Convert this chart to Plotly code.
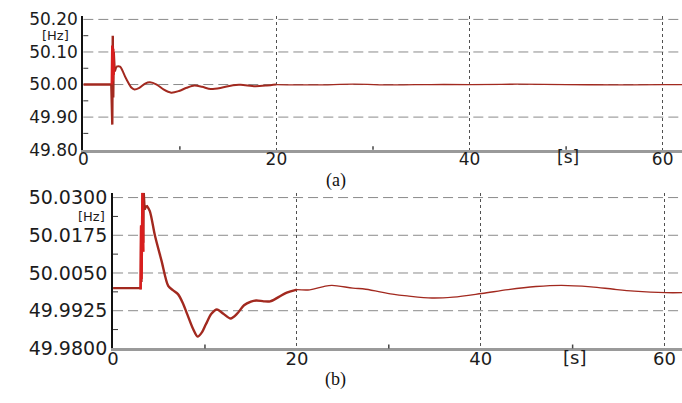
import plotly.graph_objects as go

W, H = 682, 403

# ---------------- data: panel (a) ----------------
ta_spike = [0, 2.9, 3.0, 3.05, 3.1, 3.15, 3.25, 3.4]
va_spike = [50.00, 50.00, 49.877, 50.15, 49.96, 50.10, 50.04, 50.055]
ta_red = [2.95, 3.0, 3.05, 3.1, 3.15]
va_red = [50.00, 50.12, 50.01, 50.11, 50.03]
ta_main = [3.4, 3.8, 4.4, 5.0, 5.3, 5.8, 6.4, 6.9, 7.6, 8.3, 9.1, 9.9, 10.7, 11.5,
           12.3, 13.2, 14.3, 15.5, 16.3, 17.8, 19.0, 20.0]
va_main = [50.055, 50.055, 50.02, 49.99, 49.985, 49.99, 50.003, 50.007, 50.00, 49.985,
           49.975, 49.98, 49.99, 49.997, 49.993, 49.986, 49.99, 49.998, 49.999, 49.995,
           49.997, 50.00]
ta_tail = [20, 24, 28, 32, 36, 40, 45, 50, 55, 60, 62]
va_tail = [50.00, 49.999, 50.001, 49.999, 50.000, 50.000, 50.001, 50.000, 49.999, 50.000, 50.000]

# ---------------- data: panel (b) ----------------
tb_spike = [0, 3.0, 3.05, 3.1, 3.2, 3.3, 3.35, 3.45, 3.65]
vb_spike = [50.000, 50.000, 50.0207, 50.002, 50.0316, 50.015, 50.0316, 50.026, 50.0274]
tb_red = [3.0, 3.05, 3.1, 3.2, 3.3]
vb_red = [49.9995, 50.0207, 50.003, 50.0316, 50.012]
tb_main = [3.65, 4.0, 4.55, 5.27, 6.0, 6.5, 7.06, 7.6, 8.1, 8.7, 9.2, 9.7, 10.1, 10.7,
           11.3, 12.0, 12.8, 13.5, 14.25, 15.0, 15.6, 16.4, 17.1, 18.0, 18.9, 20.0]
vb_main = [50.0274, 50.0255, 50.0175, 50.0091, 50.0007, 49.9993, 49.998, 49.995, 49.9911,
           49.9865, 49.9839, 49.9855, 49.988, 49.9915, 49.9929, 49.9915, 49.9899, 49.9915,
           49.9943, 49.9955, 49.9959, 49.9956, 49.9956, 49.997, 49.9985, 49.9995]
tb_tail = [20.0, 21.4, 22.9, 23.8, 26.1, 27.5, 30.4, 32.0, 34.7, 37.0, 40.1, 43.0, 46.0,
           48.8, 52.0, 54.5, 56.7, 60.1, 61.9]
vb_tail = [49.9995, 49.9994, 50.0005, 50.0009, 50.0000, 49.9996, 49.998, 49.9974, 49.9967,
           49.997, 49.9982, 49.9995, 50.0005, 50.0009, 50.0004, 49.9996, 49.999, 49.9985,
           49.9985]

# tick labels / values
x_ticks = [0, 20, 40, 60]
x_minor = [10, 30, 50]
ya_ticks = [49.80, 49.90, 50.00, 50.10, 50.20]
ya_minor = [49.85, 49.95, 50.05, 50.15]
yb_ticks = [49.9800, 49.9925, 50.0050, 50.0175, 50.0300]
yb_minor = [49.98625, 49.99875, 50.01125, 50.02375]

DARK = "#a2291f"
RED = "#d81e1e"
GRID = "#8a8a8a"
VGRID = "#505050"

fig = go.Figure()
# panel (a)
fig.add_trace(go.Scatter(x=ta_spike, y=va_spike, mode="lines", line=dict(color=DARK, width=2.4),
                         xaxis="x", yaxis="y", showlegend=False))
fig.add_trace(go.Scatter(x=ta_red, y=va_red, mode="lines", line=dict(color=RED, width=2.5),
                         xaxis="x", yaxis="y", showlegend=False))
fig.add_trace(go.Scatter(x=ta_main, y=va_main, mode="lines", line=dict(color=DARK, width=2.0, shape="spline", smoothing=0.8),
                         xaxis="x", yaxis="y", showlegend=False))
fig.add_trace(go.Scatter(x=ta_tail, y=va_tail, mode="lines", line=dict(color=DARK, width=1.3, shape="spline"),
                         xaxis="x", yaxis="y", showlegend=False))
# panel (b)
fig.add_trace(go.Scatter(x=tb_spike, y=vb_spike, mode="lines", line=dict(color=DARK, width=2.2),
                         xaxis="x2", yaxis="y2", showlegend=False))
fig.add_trace(go.Scatter(x=tb_red, y=vb_red, mode="lines", line=dict(color=RED, width=2.5),
                         xaxis="x2", yaxis="y2", showlegend=False))
fig.add_trace(go.Scatter(x=tb_main, y=vb_main, mode="lines", line=dict(color=DARK, width=2.4, shape="spline", smoothing=0.8),
                         xaxis="x2", yaxis="y2", showlegend=False))
fig.add_trace(go.Scatter(x=tb_tail, y=vb_tail, mode="lines", line=dict(color=DARK, width=1.4, shape="spline"),
                         xaxis="x2", yaxis="y2", showlegend=False))


def px_x(p):
    return p / W


def px_y(p):
    return 1 - p / H


FONT = "DejaVu Sans"
TXT = "#1c1c1c"

xcommon = dict(
    showline=True, linecolor="#9a9a9a", linewidth=2.5, layer="below traces",
    showgrid=True, gridcolor=VGRID, griddash="dot", gridwidth=1,
    zeroline=False, tickmode="array", tickvals=x_ticks, ticks="",
    ticklabelstandoff=-8,
)
ycommon = dict(
    showline=True, linecolor="#111111", linewidth=2,
    showgrid=False,
    zeroline=False, tickmode="array", ticks="",
)

# panel (a) geometry: y 49.80 at px 150, 50.20 at px 14; top extends to px 10
a_left, a_bot, a_top_tick, a_top = 78, 150, 14, 10
ya_per_px = (ya_ticks[-1] - ya_ticks[0]) / (a_bot - a_top_tick)
ya_range = [ya_ticks[0], ya_ticks[-1] + (a_top_tick - a_top) * ya_per_px]

b_left, b_bot, b_top_tick, b_top = 108, 357.5, 200, 195
yb_per_px = (yb_ticks[-1] - yb_ticks[0]) / (b_bot - b_top_tick)
yb_range = [yb_ticks[0], yb_ticks[-1] + (b_top_tick - b_top) * yb_per_px]

shapes = []
# horizontal dashed grid lines at the y ticks
for xr, yr, ticks in (("x domain", "y", ya_ticks), ("x2 domain", "y2", yb_ticks)):
    for v in ticks[1:]:
        shapes.append(dict(type="line", xref=xr, yref=yr, x0=0, x1=1, y0=v, y1=v,
                           line=dict(color=GRID, width=1, dash="10px,5px"), layer="below"))
# minor inside ticks on y axes
for xr, yr, ticks, left in (("x domain", "y", ya_minor, a_left), ("x2 domain", "y2", yb_minor, b_left)):
    frac = 5 / (W - left)
    for v in ticks:
        shapes.append(dict(type="line", xref=xr, yref=yr, x0=0, x1=frac, y0=v, y1=v,
                           line=dict(color="#333", width=1)))
# minor inside ticks on x axes
for xr, yr, ticks in (("x", "y domain", x_minor), ("x2", "y2 domain", x_minor)):
    for v in ticks:
        shapes.append(dict(type="line", xref=xr, yref=yr, x0=v, x1=v, y0=0, y1=0.025,
                           line=dict(color="#444", width=1.5)))

fig.update_layout(
    width=W, height=H,
    margin=dict(l=0, r=0, t=0, b=0),
    paper_bgcolor="white", plot_bgcolor="white",
    shapes=shapes,
    xaxis=dict(xcommon, domain=[px_x(a_left), 1.0], range=[0, 62], anchor="y",
               tickfont=dict(family=FONT, size=17, color=TXT)),
    yaxis=dict(ycommon, domain=[px_y(a_bot), px_y(a_top)], range=ya_range, anchor="x",
               tickvals=ya_ticks, tickformat=".2f",
               tickfont=dict(family=FONT, size=17, color=TXT)),
    xaxis2=dict(xcommon, domain=[px_x(b_left), 1.0], range=[0, 61.9], anchor="y2",
                tickfont=dict(family=FONT, size=18, color=TXT)),
    yaxis2=dict(ycommon, domain=[px_y(b_bot), px_y(b_top)], range=yb_range, anchor="x2",
                tickvals=yb_ticks, tickformat=".4f",
                tickfont=dict(family=FONT, size=19, color=TXT)),
    annotations=[
        dict(text="[Hz]", xref="paper", yref="paper", x=px_x(66), y=px_y(31), xanchor="right", yanchor="middle",
             showarrow=False, font=dict(family=FONT, size=13, color=TXT)),
        dict(text="[s]", xref="paper", yref="paper", x=px_x(567), y=px_y(158), xanchor="center", yanchor="middle",
             showarrow=False, font=dict(family=FONT, size=17, color=TXT)),
        dict(text="(a)", xref="paper", yref="paper", x=px_x(333), y=px_y(182), xanchor="center", yanchor="middle",
             showarrow=False, font=dict(family="Liberation Serif", size=18, color="#111")),
        dict(text="[Hz]", xref="paper", yref="paper", x=px_x(102), y=px_y(220), xanchor="right", yanchor="middle",
             showarrow=False, font=dict(family=FONT, size=13, color=TXT)),
        dict(text="[s]", xref="paper", yref="paper", x=px_x(574), y=px_y(367), xanchor="center", yanchor="middle",
             showarrow=False, font=dict(family=FONT, size=18, color=TXT)),
        dict(text="(b)", xref="paper", yref="paper", x=px_x(332), y=px_y(390), xanchor="center", yanchor="middle",
             showarrow=False, font=dict(family="Liberation Serif", size=18, color="#111")),
    ],
)

fig.write_html("out.html")
